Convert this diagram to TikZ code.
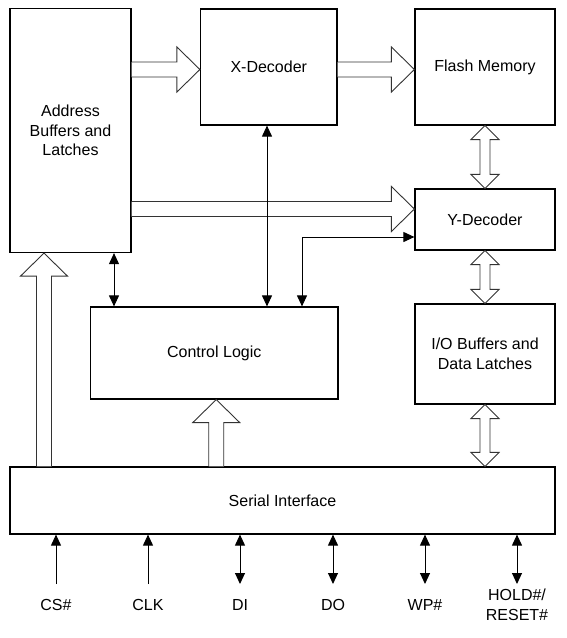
\documentclass[tikz,border=0pt]{standalone}
\usepackage{fontspec}
\setmainfont{Liberation Sans}
\usetikzlibrary{arrows.meta,calc}
\tikzset{
  block/.style = {draw, line width=1.2pt, align=center, inner sep=2pt,
                  font=\fontsize{16}{19.5}\selectfont},
  pinlabel/.style = {align=center, inner sep=0pt,
                  font=\fontsize{16}{19.5}\selectfont},
  sig/.style = {line width=1pt, -{Triangle[length=11pt,width=10pt]}},
  dsig/.style = {line width=1pt, {Triangle[length=11pt,width=10pt]}-{Triangle[length=11pt,width=10pt]}},
  bus/.style = {draw=black!80, line width=0.9pt, fill=white, line join=miter}
}
% hollow bus arrows
\newcommand{\busright}[2]{\draw[bus] ($(#1)+(0,-7.5)$) -- ($(#2)+(-23,-7.5)$)
  -- ($(#2)+(-23,-22.5)$) -- (#2) -- ($(#2)+(-23,22.5)$) -- ($(#2)+(-23,7.5)$)
  -- ($(#1)+(0,7.5)$);}
\newcommand{\busup}[2]{\draw[bus] ($(#1)+(-7.5,0)$) -- ($(#2)+(-7.5,23)$)
  -- ($(#2)+(-23.5,23)$) -- (#2) -- ($(#2)+(23.5,23)$) -- ($(#2)+(7.5,23)$)
  -- ($(#1)+(7.5,0)$);}
\newcommand{\busboth}[2]{\draw[bus] (#1) -- ($(#1)+(14,14)$) -- ($(#1)+(5,14)$)
  -- ($(#2)+(5,-14)$) -- ($(#2)+(14,-14)$) -- (#2) -- ($(#2)+(-14,-14)$)
  -- ($(#2)+(-5,-14)$) -- ($(#1)+(-5,14)$) -- ($(#1)+(-14,14)$) -- cycle;}
\begin{document}
\begin{tikzpicture}[x=1pt,y=-1pt]
\useasboundingbox (0,0) rectangle (566,638);
% blocks
\node[block, minimum width=121pt, minimum height=244pt] (addr) at (70.5,130.5) {Address\\Buffers and\\Latches};
\node[block, minimum width=136.5pt, minimum height=116pt] (xdec) at (268.75,67) {X-Decoder};
\node[block, minimum width=140pt, minimum height=116pt] (flash) at (485,67) {Flash Memory};
\node[block, minimum width=140pt, minimum height=61pt] (ydec) at (485,219.5) {Y-Decoder};
\node[block, minimum width=140pt, minimum height=100pt] (io) at (485,354) {I/O Buffers and\\Data Latches};
\node[block, minimum width=247.5pt, minimum height=92pt] (ctrl) at (214.25,353) {Control Logic};
\node[block, minimum width=545pt, minimum height=67pt] (serial) at (282.5,500.5) {Serial Interface};
% buses
\busright{addr.east |- 0,69.5}{[yshift=-2.5pt]xdec.west}
\busright{xdec.east |- 0,69.5}{[yshift=-2.5pt]flash.west}
\busright{addr.east |- 0,209}{[yshift=10.5pt]ydec.west}
\busup{[xshift=-26.5pt]addr.south |- serial.north}{[xshift=-26.5pt]addr.south}
\busup{[xshift=2pt]ctrl.south |- serial.north}{[xshift=2pt]ctrl.south}
\busboth{flash.south}{ydec.north}
\busboth{ydec.south}{io.north}
\busboth{io.south}{io.south |- serial.north}
% control lines
\draw[dsig] ([xshift=43.5pt]addr.south) -- ([xshift=43.5pt]addr.south |- ctrl.north);
\draw[dsig] ([xshift=-1.75pt]xdec.south) -- ([xshift=-1.75pt]xdec.south |- ctrl.north);
\coordinate (ytap) at ([yshift=-17.5pt]ydec.west);
\draw[dsig] ([xshift=87.75pt]ctrl.north) |- (ytap);
% pins
\foreach \p/\x/\t in {cs/56/CS\#, clk/148/CLK} {
  \node[pinlabel] (\p) at (\x,605) {\t};
  \coordinate (\p end) at (\x,584);
  \draw[sig] (\p end) -- (\p end |- serial.south);
}
\foreach \p/\x/\t in {di/240/DI, do/333/DO, wp/425/WP\#, hold/517/{HOLD\#/\\RESET\#}} {
  \node[pinlabel] (\p) at (\x,605) {\t};
  \coordinate (\p end) at (\x,584);
  \draw[dsig] (\p end) -- (\p end |- serial.south);
}
\end{tikzpicture}
\end{document}
